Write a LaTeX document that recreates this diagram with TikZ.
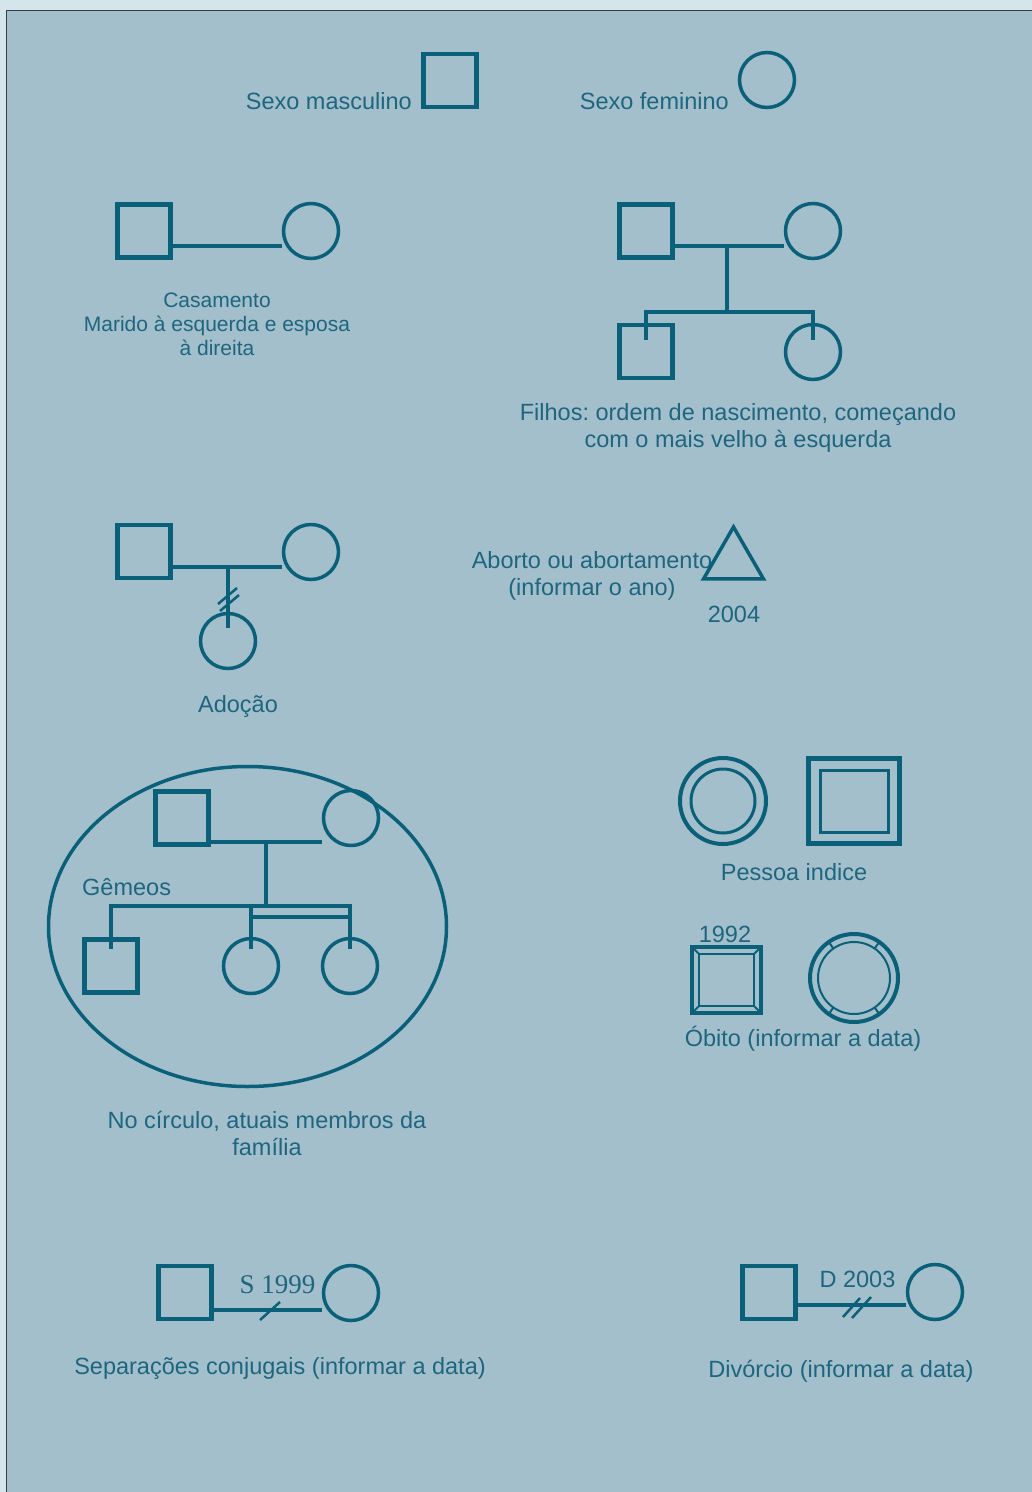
\documentclass[tikz,border=0pt]{standalone}
\usepackage{fontspec}
\setmainfont{Liberation Sans}
\newfontfamily\timesf{Liberation Serif}
\usetikzlibrary{shapes.geometric,calc}
\definecolor{bgmain}{RGB}{163,191,204}
\definecolor{bglight}{RGB}{213,229,236}
\definecolor{ink}{RGB}{11,96,121}
\definecolor{txt}{RGB}{30,102,127}
\definecolor{framec}{RGB}{55,62,66}
\frenchspacing
\begin{document}
\begin{tikzpicture}[x=1pt,y=-1pt,
  male/.style={draw=ink,line width=4.5pt,rectangle,minimum size=53pt,inner sep=0pt},
  female/.style={draw=ink,line width=3.5pt,circle,minimum size=55pt,inner sep=0pt},
  rel/.style={draw=ink,line width=4pt},
  slashmark/.style={draw=ink,line width=2.5pt},
  lbl/.style={text=txt,font=\fontsize{23.5}{27}\selectfont,align=center,inner sep=0pt},
  smalllbl/.style={text=txt,font=\fontsize{21}{24}\selectfont,align=center,inner sep=0pt}]
\useasboundingbox (0,0) rectangle (1032,1492);
\fill[bglight] (0,0) rectangle (1032,1492);
\fill[bgmain] (7,11) rectangle (1032,1492);
\draw[framec,line width=1.5pt] (6.5,1492) -- (6.5,10.5) -- (1032,10.5);

% --- sexo
\node[male] (sm) at (450,80.5) {};
\node[female] (sf) at (767,80) {};
\node[lbl,anchor=base east] (tsm) at (412,109) {Sexo masculino};
\node[lbl,anchor=base east] (tsf) at (729,109) {Sexo feminino};

% --- casamento
\node[male] (cm) at (144,231) {};
\node[female] (cf) at (311,231) {};
\coordinate (cl) at (0,246);
\draw[rel] (cm.east |- cl) -- (cf.west |- cl);
\node[smalllbl] (tc) at (217,324) {Casamento\\Marido à esquerda e esposa\\à direita};

% --- filhos
\node[male] (fm) at (646,231) {};
\node[female] (ff) at (813,231) {};
\node[male] (fc1) at (646,351.5) {};
\node[female] (fc2) at (813,352) {};
\coordinate (fmid) at (727,246);
\coordinate (fsib) at (727,312);
\draw[rel] (fm.east |- fmid) -- (ff.west |- fmid);
\draw[rel] (fmid) -- (fsib);
\draw[rel] ([yshift=-17pt]fc1.north) |- (fsib) -| ([yshift=-17pt]fc2.north);
\node[lbl] (tf) at (738,427.5) {Filhos: ordem de nascimento, começando\\com o mais velho à esquerda};

% --- adocao
\node[male] (am) at (144,551.5) {};
\node[female] (af) at (311,552) {};
\node[female] (ac) at (228,641) {};
\coordinate (amid) at (228,567);
\draw[rel] (am.east |- amid) -- (af.west |- amid);
\draw[rel] (amid) -- ([yshift=-16pt]ac.north);
\draw[slashmark] (218,604) -- (237,588);
\draw[slashmark] (220,611) -- (239,595);
\node[lbl,anchor=base] (ta) at (238,712) {Adoção};

% --- aborto
\node[lbl] (tab) at (592,576) {Aborto ou abortamento\\(informar o ano)};
\node[draw=ink,line width=3.5pt,regular polygon,regular polygon sides=3,minimum size=69pt,inner sep=0pt] (ab) at (733.5,561.5) {};
\node[lbl,anchor=base] (t2004) at (734,622) {2004};

% --- pessoa indice
\node[draw=ink,line width=4pt,circle,minimum size=86pt,inner sep=0pt] (pc) at (723,801) {};
\draw[ink,line width=3pt] (pc.center) circle[radius=32pt];
\node[draw=ink,line width=5pt,rectangle,minimum width=91pt,minimum height=85pt,inner sep=0pt] (ps) at (854,801) {};
\draw[ink,line width=3pt] ($(ps.center)+(-34,-31)$) rectangle ($(ps.center)+(34,31)$);
\node[lbl,anchor=base] (tp) at (794,880) {Pessoa indice};

% --- obito
\node[lbl,anchor=base] (t1992) at (725,942) {1992};
\node[draw=ink,line width=4pt,rectangle,minimum width=69pt,minimum height=66pt,inner sep=0pt] (os) at (726.5,980) {};
\draw[ink,line width=2pt] ($(os.center)+(-27.5,-26)$) rectangle ($(os.center)+(27.5,26)$);
\foreach \sx/\sy in {-1/-1,1/-1,-1/1,1/1}
  \draw[ink,line width=2pt] ($(os.center)+(\sx*34.5,\sy*33)$) -- ($(os.center)+(\sx*27.5,\sy*26)$);
\node[draw=ink,line width=4pt,circle,minimum size=88pt,inner sep=0pt] (oc) at (854,978) {};
\draw[ink,line width=2pt] (oc.center) circle[radius=36pt];
\foreach \a in {55,125,235,305}
  \draw[ink,line width=2pt] ($(oc.center)+(\a:36)$) -- ($(oc.center)+(\a:43)$);
\node[lbl,anchor=base] (to) at (803,1046) {Óbito (informar a data)};

% --- gemeos
\node[draw=ink,line width=3.5pt,ellipse,minimum width=398pt,minimum height=320pt,inner sep=0pt] (ge) at (247.5,926.5) {};
\node[male] (gm) at (182,818) {};
\node[female] (gf) at (351,818) {};
\node[male] (gc1) at (111,966) {};
\node[female] (gc2) at (251,966) {};
\node[female] (gc3) at (350,966) {};
\coordinate (gmid) at (266,842);
\coordinate (gsib) at (266,906);
\coordinate (gtw) at (0,917);
\draw[rel] (gm.east |- gmid) -- (gf.west |- gmid);
\draw[rel] (gmid) -- (gsib);
\draw[rel] ([yshift=-12pt]gc1.north) |- (gsib) -| ([yshift=-12pt]gc3.north);
\draw[rel] ([yshift=-12pt]gc2.north) -- (gc2.north |- gsib);
\draw[rel] (gc2.north |- gtw) -- (gc3.north |- gtw);
\node[lbl,anchor=base west] (tg) at (82,895) {Gêmeos};
\node[lbl] (tn) at (267,1133) {No círculo, atuais membros da\\família};

% --- separacao
\node[male] (pm) at (185,1292.5) {};
\node[female] (pf) at (351,1293) {};
\coordinate (pl) at (0,1310);
\draw[rel] (pm.east |- pl) -- (pf.west |- pl);
\draw[slashmark] (260,1320) -- (280,1302);
\node[text=txt,font=\timesf\fontsize{27}{30}\selectfont,anchor=base,inner sep=0pt] (ts) at (277.5,1293) {S 1999};
\node[lbl,anchor=base] (tsep) at (280,1374) {Separações conjugais (informar a data)};

% --- divorcio
\node[male] (dm) at (769,1292.5) {};
\node[female] (df) at (935,1292) {};
\coordinate (dl) at (0,1305);
\draw[rel] (dm.east |- dl) -- (df.west |- dl);
\draw[slashmark] (843,1317) -- (860,1298);
\draw[slashmark] (852,1318) -- (871,1297);
\node[lbl,anchor=base] (td) at (857.5,1287) {D 2003};
\node[lbl,anchor=base] (tdiv) at (841,1377) {Divórcio (informar a data)};
\end{tikzpicture}
\end{document}
